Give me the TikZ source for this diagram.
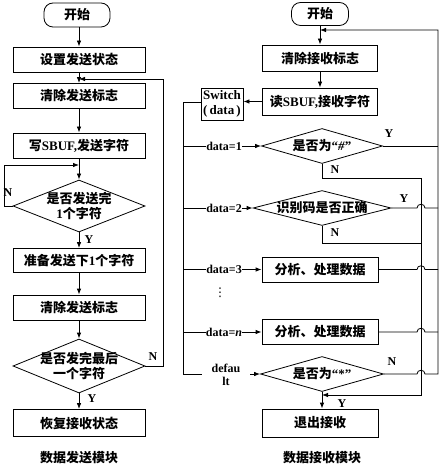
\documentclass[tikz,border=0pt]{standalone}
\usepackage{fontspec}
\setmainfont{Liberation Serif}
\newfontfamily\cjk{Noto Sans CJK SC}
\newfontfamily\symf{DejaVu Sans}
\usetikzlibrary{shapes.geometric,arrows.meta}
\newcommand{\zh}[1]{{\cjk\bfseries #1}}
\begin{document}
\begin{tikzpicture}[x=1pt,y=-1pt,
  every node/.style={font=\bfseries\fontsize{13}{15}\selectfont},
  box/.style={draw, line width=0.8pt, inner sep=0pt, align=center},
  term/.style={box, rounded corners=9pt},
  dia/.style={draw, line width=0.8pt, diamond, inner sep=0pt},
  txt/.style={inner sep=0pt, align=center},
  lab/.style={txt, font=\bfseries\fontsize{12}{13}\selectfont},
  ln/.style={line width=0.8pt},
  arr/.style={ln, -{Latex[length=6pt,width=4.5pt]}}]
\useasboundingbox (0,0) rectangle (444,470);

% ---------------- left chart ----------------
\node[term, minimum width=66pt, minimum height=24pt] (ls) at (77,15) {\zh{开始}};
\node[box, minimum width=132pt, minimum height=25pt] (l1) at (79,59.5) {\zh{设置发送状态}};
\node[box, minimum width=132pt, minimum height=25pt] (l2) at (79,96) {\zh{清除发送标志}};
\node[box, minimum width=132pt, minimum height=25pt] (l3) at (79,145.5) {\zh{写}SBUF,\zh{发送字符}};
\node[dia, minimum width=132pt, minimum height=52pt] (ld1) at (79,206) {};
\node[txt] (ld1t) at (ld1.center) {\zh{是否发送完}\\1\zh{个字符}};
\node[box, minimum width=132pt, minimum height=24pt] (l4) at (79,260.5) {\zh{准备发送下}1\zh{个字符}};
\node[box, minimum width=132pt, minimum height=25pt] (l5) at (79,307.5) {\zh{清除发送标志}};
\node[dia, minimum width=132pt, minimum height=54pt] (ld2) at (79,366) {};
\node[txt] (ld2t) at (ld2.center) {\zh{是否发完最后}\\\zh{一个字符}};
\node[box, minimum width=132pt, minimum height=27pt] (l6) at (79,423) {\zh{恢复接收状态}};
\node[txt] (lcap) at (79,458) {\zh{数据发送模块}};

\coordinate (lf) at (79,79);
\coordinate (lr1) at (163,366);
\coordinate (lr2) at (163,79);
\coordinate (ll) at (4,206);
\coordinate (lt) at (79,165);

\draw[arr] (ls.south -| l1.north) -- (l1.north);
\draw[arr] (l1) -- (l2);
\draw[arr] (l2) -- (l3);
\draw[arr] (l3) -- (ld1);
\draw[arr] (ld1) -- (l4);
\draw[arr] (l4) -- (l5);
\draw[arr] (l5) -- (ld2);
\draw[arr] (ld2) -- (l6);
\draw[arr] (ld2.east) -- (lr1) -- (lr2) -- (lf);
\draw[arr] (ld1.west) -- (ll) |- (lt);
\node[lab] (ln1) at (8,193) {N};
\node[lab] (ly1) at (89,240) {Y};
\node[lab] (ln2) at (153,357) {N};
\node[lab] (ly2) at (92,399) {Y};

% ---------------- right chart ----------------
\node[term, minimum width=57pt, minimum height=23pt] (rs) at (320,14) {\zh{开始}};
\node[box, minimum width=115pt, minimum height=26pt] (r1) at (320,58) {\zh{清除接收标志}};
\node[box, minimum width=115pt, minimum height=27pt] (r2) at (320,101.5) {\zh{读}SBUF,\zh{接收字符}};
\node[box, minimum width=42pt, minimum height=32pt] (sw) at (222,104) {Switch\\(\,data\,)};
\node[dia, minimum width=121pt, minimum height=35pt] (d1) at (322,146) {};
\node[txt] (d1t) at (d1.center) {\zh{是否为}“\textit{\#}”};
\node[dia, minimum width=138pt, minimum height=35pt] (d2) at (322,208) {};
\node[txt] (d2t) at (d2.center) {\zh{识别码是否正确}};
\node[box, minimum width=116pt, minimum height=25pt] (b3) at (320,269.5) {\zh{分析、处理数据}};
\node[box, minimum width=116pt, minimum height=25pt] (bn) at (320,332) {\zh{分析、处理数据}};
\node[dia, minimum width=123pt, minimum height=35pt] (d3) at (322,374) {};
\node[txt] (d3t) at (d3.center) {\zh{是否为}“*”};
\node[box, minimum width=116pt, minimum height=28pt] (bx) at (320,423) {\zh{退出接收}};
\node[txt] (rcap) at (322,458) {\zh{数据接收模块}};

\node[lab] (t1) at (224,146) {data=1};
\node[lab] (t2) at (224,208) {data=2};
\node[lab] (t3) at (224,269.5) {data=3};
\node[lab] (tn) at (224,332) {data=\textit{n}};
\node[lab] (tdef) at (226,374.5) {defau\\lt};
\node[txt, font=\symf\fontsize{12}{13}\selectfont] (dots) at (220,293) {⋮};

\coordinate (vtop) at (183,102);
\coordinate (vbot) at (183,374);
\coordinate (vd) at (202,374);
\coordinate (ad) at (250,374);
\coordinate (rf) at (320,30);
\coordinate (otop) at (438,30);
\coordinate (o1) at (438,146);
\coordinate (o2) at (438,208);
\coordinate (o3) at (438,269.5);
\coordinate (o4) at (438,332);
\coordinate (o5) at (438,374);
\coordinate (i1) at (421,178);
\coordinate (i3) at (421,243);
\coordinate (i2) at (421,395);
\coordinate (ib) at (322,395);

\draw[arr] (rs) -- (r1);
\draw[arr] (r1) -- (r2);
\draw[arr] (r2.west) -- (r2.west -| sw.east);
\draw[ln] (sw.west |- vtop) -- (vtop) -- (vbot) -- (vd);
\draw[ln] (t1.west -| vtop) -- (t1.west);
\draw[ln] (t2.west -| vtop) -- (t2.west);
\draw[ln] (t3.west -| vtop) -- (t3.west);
\draw[ln] (tn.west -| vtop) -- (tn.west);
\draw[arr] (t1.east) -- (d1.west);
\draw[arr] (t2.east) -- (d2.west);
\draw[arr] (t3.east) -- (b3.west);
\draw[arr] (tn.east) -- (bn.west);
\draw[arr] (ad) -- (d3.west);
\draw[arr] (d3.south) -- (d3.south |- bx.north);

% Y / N exits
\draw[ln] (d1.east) -- (o1);
\draw[ln] (d2.east) -- (417,208) .. controls (417,203) and (425,203) .. (425,208) -- (o2);
\draw[ln] (b3.east) -- (417,269.5) .. controls (417,264.5) and (425,264.5) .. (425,269.5) -- (o3);
\draw[ln] (bn.east) -- (417,332) .. controls (417,327) and (425,327) .. (425,332) -- (o4);
\draw[arr] (d3.east) -- (417,374) .. controls (417,369) and (425,369) .. (425,374) -- (o5) -- (otop) -- (rf);
\draw[arr] (d1.south) |- (i1) -- (i2) -- (ib);
\draw[ln] (d2.south) |- (i3);

\node[lab] (y1) at (389,134) {Y};
\node[lab] (n1) at (335,170) {N};
\node[lab] (y2) at (404,199) {Y};
\node[lab] (n2) at (335,233) {N};
\node[lab] (n3) at (392,362) {N};
\node[lab] (y3) at (342,404) {Y};
\end{tikzpicture}
\end{document}
